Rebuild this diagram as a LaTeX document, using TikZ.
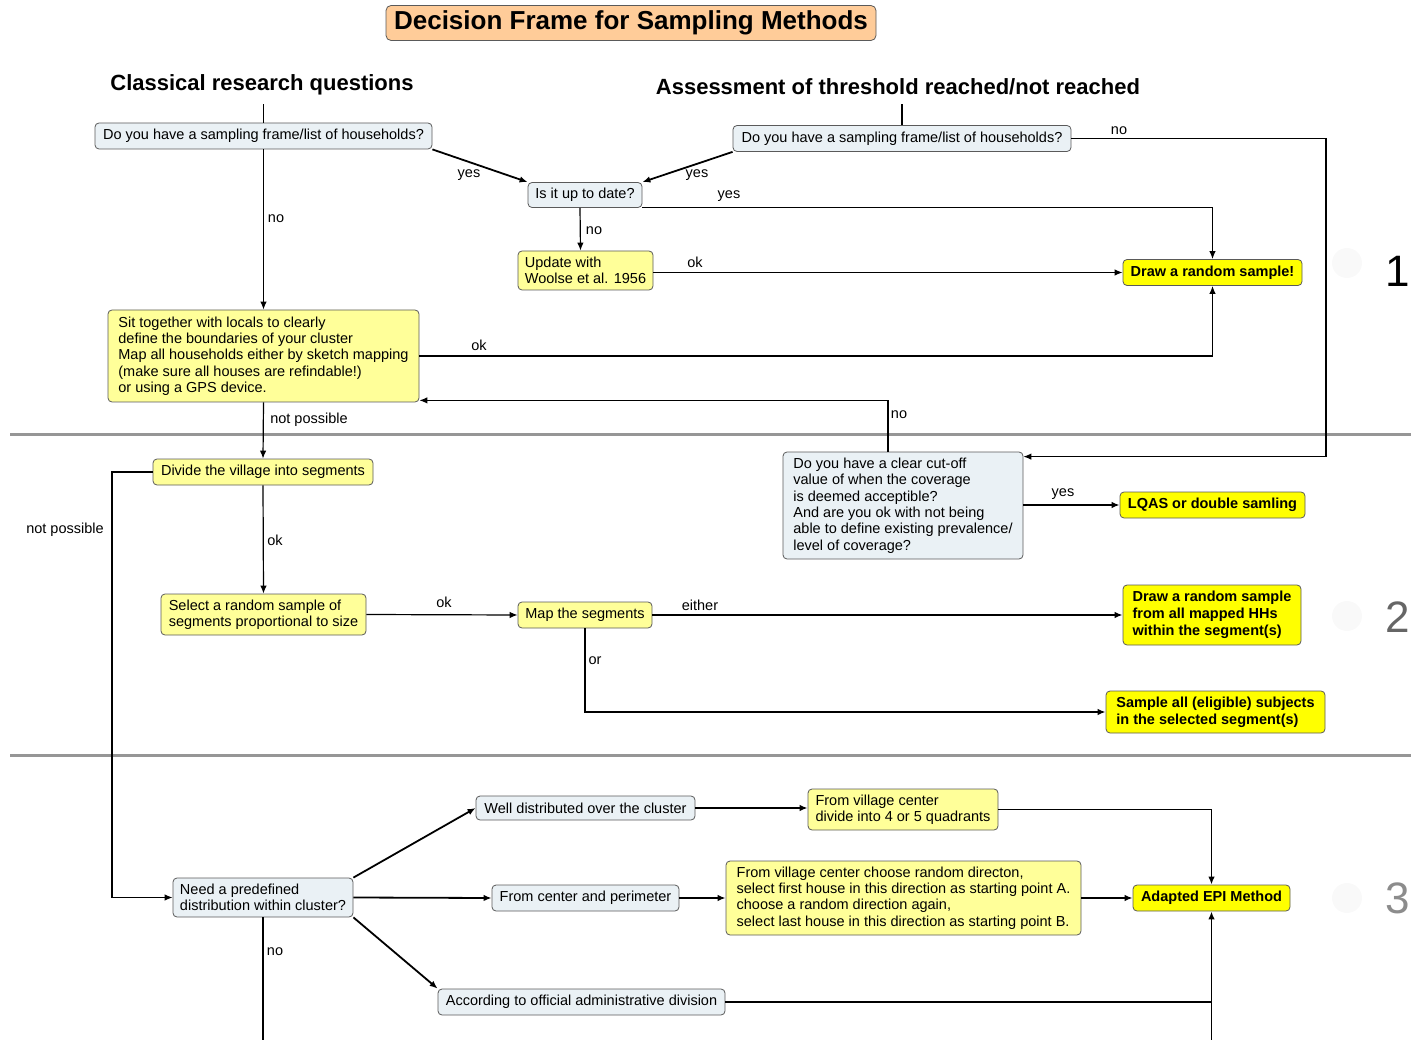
\documentclass[tikz,border=0pt]{standalone}
\usepackage{fontspec}
\setmainfont{Liberation Sans}
\usetikzlibrary{arrows.meta}
\definecolor{qfill}{RGB}{234,241,245}
\definecolor{lyel}{RGB}{255,255,153}
\definecolor{byel}{RGB}{255,255,0}
\definecolor{torange}{RGB}{255,204,153}
\definecolor{sepgray}{RGB}{150,150,150}
\definecolor{bordgray}{RGB}{90,90,90}
\begin{document}
\begin{tikzpicture}[x=1pt,y=-1pt,
 base/.style={draw=bordgray, line width=0.8pt, rounded corners=4pt, inner sep=0pt, font=\fontsize{14.5}{16.3}\selectfont},
 qbox/.style={base, fill=qfill},
 ybox/.style={base, fill=lyel},
 bbox/.style={base, fill=byel, font=\fontsize{14.5}{17}\selectfont\bfseries},
 lbl/.style={font=\fontsize{14.5}{16}\selectfont, inner sep=0pt},
 hdr/.style={font=\fontsize{22}{24}\selectfont\bfseries, inner sep=0pt},
 conn/.style={line width=1.2pt},
 connt/.style={line width=1.8pt},
 arr/.style={-{Latex[length=8pt,width=6.5pt]}},
 bignum/.style={font=\fontsize{44}{44}\selectfont, inner sep=0pt},
 ghost/.style={fill=black!2.5, draw=none, circle, minimum size=30}
]
\useasboundingbox (0,0) rectangle (1411,1040);

% separators
\draw[sepgray, line width=3pt] (10,434) -- (1411,434);
\draw[sepgray, line width=3pt] (10,755) -- (1411,755);

% title and headers
\node[draw=bordgray, fill=torange, rounded corners=5pt, line width=0.8pt, minimum width=490, minimum height=35, inner sep=0pt, font=\fontsize{26}{28}\selectfont\bfseries] (title) at (631,23) {Decision Frame for Sampling Methods};
\node[hdr] (hdrL) at (262,85) {Classical research questions};
\node[hdr] (hdrR) at (898,87) {Assessment of threshold reached/not reached};

% nodes
\node[qbox, minimum width=337, minimum height=26] (q1L) at (263.5,136) {Do you have a sampling frame/list of households?};
\node[qbox, minimum width=338, minimum height=26] (q1R) at (902,138.5) {Do you have a sampling frame/list of households?};
\node[qbox, minimum width=114, minimum height=25] (utd) at (585,195) {Is it up to date?};
\node[ybox, align=left, minimum width=135, minimum height=39] (upd) at (585.5,270.5) {Update with\\Woolse et al. 1956};
\node[bbox, minimum width=179, minimum height=26] (drs) at (1212.5,272.5) {Draw a random sample!};
\node[ybox, align=left, minimum width=311, minimum height=92] (sit) at (263.5,356) {Sit together with locals to clearly\\define the boundaries of your cluster\\Map all households either by sketch mapping\\(make sure all houses are refindable!)\\or using a GPS device.};
\node[ybox, minimum width=220, minimum height=26] (div) at (263,472) {Divide the village into segments};
\node[qbox, align=left, minimum width=240, minimum height=107] (cut) at (903,505.5) {Do you have a clear cut-off\\value of when the coverage\\is deemed acceptible?\\And are you ok with not being\\able to define existing prevalence/\\level of coverage?};
\node[bbox, minimum width=185, minimum height=26] (lqas) at (1212.5,505) {LQAS or double samling};
\node[ybox, align=left, minimum width=205, minimum height=41] (sel) at (263.5,614.5) {Select a random sample of\\segments proportional to size};
\node[ybox, minimum width=134, minimum height=26] (map) at (585,615) {Map the segments};
\node[bbox, align=left, minimum width=178, minimum height=60] (dhh) at (1212,615) {Draw a random sample\\from all mapped HHs\\within the segment(s)};
\node[bbox, align=left, minimum width=219, minimum height=42] (sall) at (1215.5,712) {Sample all (eligible) subjects\\in the selected segment(s)};
\node[qbox, align=left, minimum width=180, minimum height=39] (need) at (263,897.5) {Need a predefined\\distribution within cluster?};
\node[qbox, minimum width=219, minimum height=24] (well) at (585.5,808) {Well distributed over the cluster};
\node[ybox, align=left, minimum width=190, minimum height=41] (fvc) at (903,809.5) {From village center\\divide into 4 or 5 quadrants};
\node[qbox, minimum width=187, minimum height=26] (cp) at (585.5,898) {From center and perimeter};
\node[ybox, align=left, minimum width=355, minimum height=74] (rnd) at (903.5,898) {From village center choose random directon,\\select first house in this direction as starting point A.\\choose a random direction again,\\select last house in this direction as starting point B.};
\node[bbox, minimum width=157, minimum height=26] (epi) at (1211.5,898) {Adapted EPI Method};
\node[qbox, minimum width=287, minimum height=26] (adm) at (581.5,1002) {According to official administrative division};

% section numbers
\node[ghost] (g1) at (1347,263) {};
\node[ghost] (g2) at (1347,616) {};
\node[ghost] (g3) at (1347,898) {};
\node[bignum, text=black] (n1) at (1398,271) {1};
\node[bignum, text=black!60] (n2) at (1398,617) {2};
\node[bignum, text=black!45] (n3) at (1398,898) {3};

% coordinates
\coordinate (rc) at (1326,138.5);
\coordinate (lc) at (112,472);
\coordinate (nb) at (263,1040);
\coordinate (eb) at (1211.5,1040);

% connectors
\draw[conn] ([yshift=-9pt]q1L.north |- hdrL.south) -- (q1L.north);
\draw[conn] ([yshift=-9pt]q1R.north |- hdrR.south) -- (q1R.north);
\draw[connt, arr] (q1L.south east) -- (utd.north west);
\draw[connt, arr] (q1R.south west) -- (utd.north east);
\draw[conn, arr] (utd.south east) -| (drs.north);
\draw[conn, arr] ([xshift=-5pt]utd.south) -- ([xshift=-5pt]upd.north);
\draw[conn, arr] (upd.east |- drs.west) -- (drs.west);
\draw[conn, arr] (q1L.south) -- (sit.north);
\draw[conn, arr] (sit.east) -| (drs.south);
\draw[conn, arr] ([xshift=-15pt]cut.north) |- ([yshift=2pt]sit.south east);
\draw[conn, arr] (q1R.east) -- (rc) |- ([yshift=-5pt]cut.north east);
\draw[conn, arr] (sit.south) -- (div.north);
\draw[conn, arr] (div.south) -- (sel.north);
\draw[conn, arr] (div.west) -- (lc) |- (need.west);
\draw[connt, arr] (cut.east |- lqas.west) -- (lqas.west);
\draw[conn, arr] (sel.east) -- (map.west);
\draw[connt, arr] (map.east) -- (dhh.west);
\draw[connt, arr] (map.south) |- (sall.west);
\draw[connt, arr] (need.north east) -- (well.west);
\draw[connt, arr] (need.east) -- (cp.west);
\draw[connt, arr] (need.south east) -- (adm.north west);
\draw[conn] (need.south) -- (nb);
\draw[connt, arr] (well.east) -- (well.east -| fvc.west);
\draw[connt, arr] (fvc.east) -| (epi.north);
\draw[connt, arr] (cp.east) -- (rnd.west);
\draw[connt, arr] (rnd.east) -- (epi.west);
\draw[connt] (adm.east) -- (adm.east -| epi.south);
\draw[connt, arr] (eb) -- (epi.south);

% labels
\node[lbl] (l1) at (469,175) {yes};
\node[lbl] (l2) at (697,175) {yes};
\node[lbl] (l3) at (729,196) {yes};
\node[lbl] (l4) at (594,231) {no};
\node[lbl] (l5) at (695,262) {ok};
\node[lbl] (l6) at (1119,131) {no};
\node[lbl] (l7) at (276,219) {no};
\node[lbl] (l8) at (479,345) {ok};
\node[lbl] (l9) at (899,415) {no};
\node[lbl] (l10) at (309,420) {not possible};
\node[lbl] (l11) at (65,530) {not possible};
\node[lbl] (l12) at (275,540) {ok};
\node[lbl] (l13) at (1063,494) {yes};
\node[lbl] (l14) at (444,602) {ok};
\node[lbl] (l15) at (700,605) {either};
\node[lbl] (l16) at (595,661) {or};
\node[lbl] (l17) at (275,952) {no};
\end{tikzpicture}
\end{document}
